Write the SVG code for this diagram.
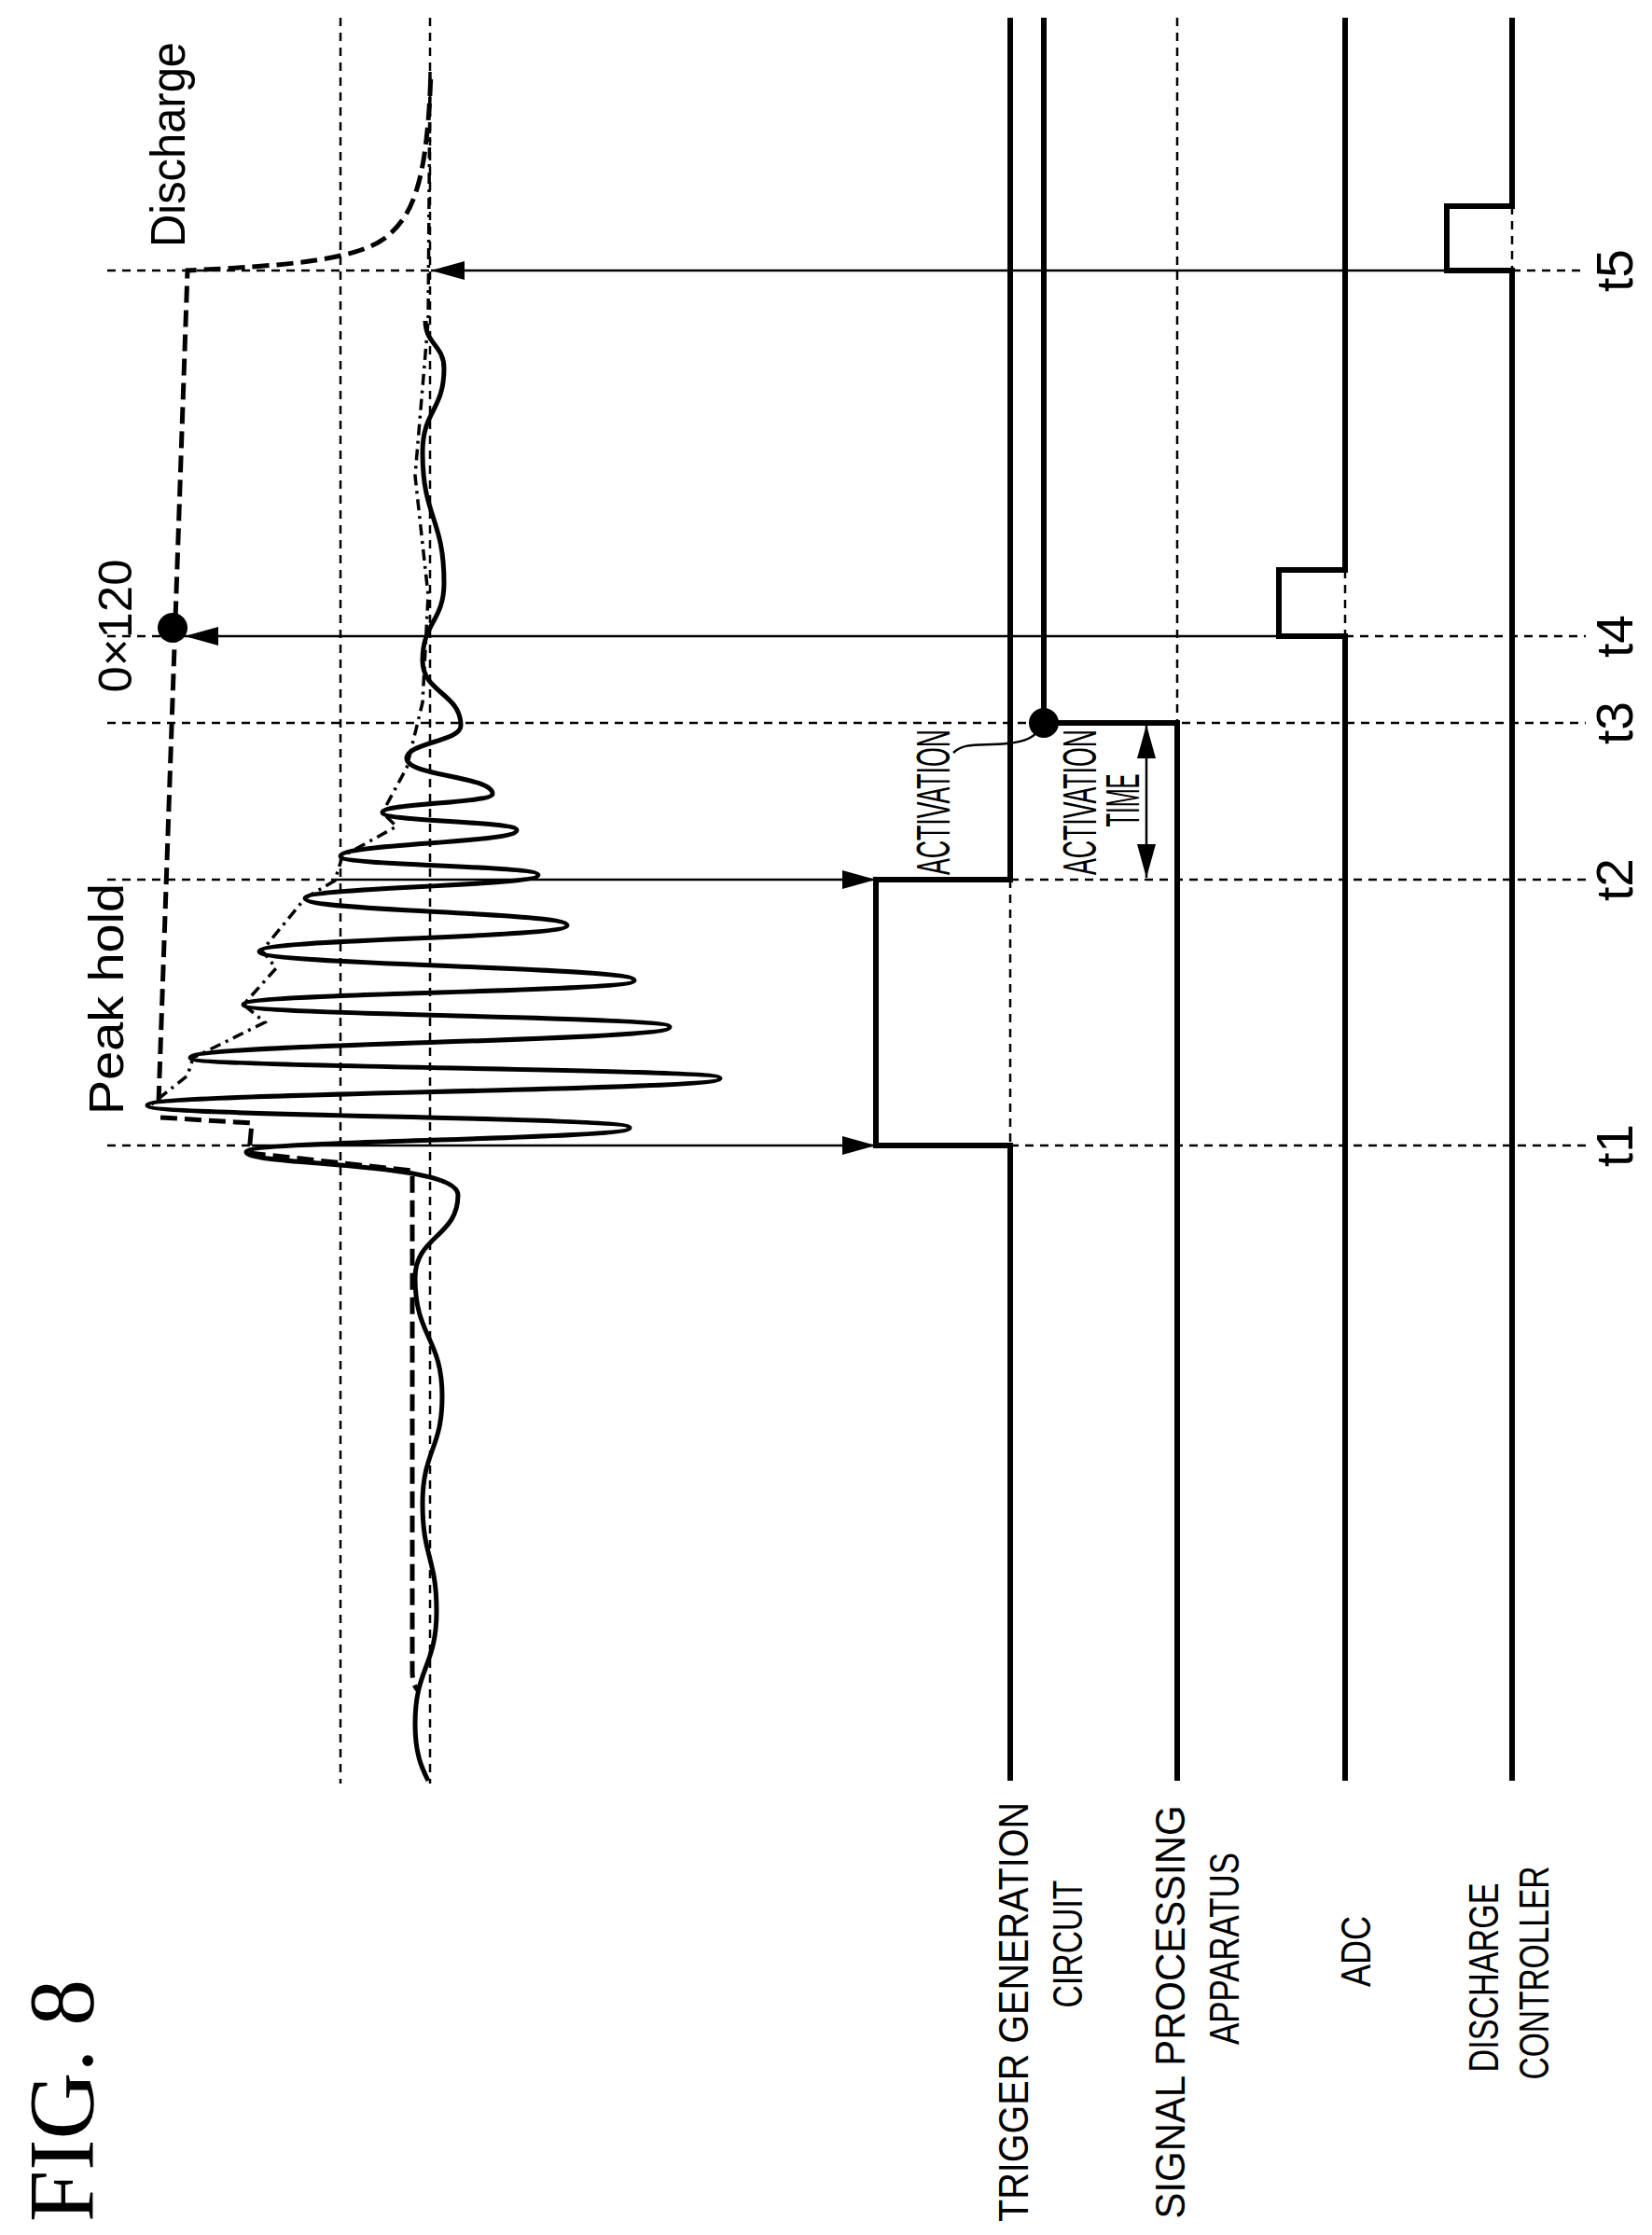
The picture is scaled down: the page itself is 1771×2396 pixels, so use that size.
<svg xmlns="http://www.w3.org/2000/svg" width="1771" height="2396" viewBox="0 0 1771 2396">
<style>
.thick{fill:none;stroke:#000;stroke-width:6}
.thin{fill:none;stroke:#000;stroke-width:2.5}
.dash{fill:none;stroke:#000;stroke-width:2.5;stroke-dasharray:9,7}
.ph{fill:none;stroke:#000;stroke-width:5;stroke-dasharray:18,8}
.dd{fill:none;stroke:#000;stroke-width:3.5;stroke-dasharray:12,6,3,6}
.wave{fill:none;stroke:#000;stroke-width:5}
text{font-family:"Liberation Sans",Arial,sans-serif;fill:#000}
.lbl{font-size:44px}
.tl{font-size:55px}
</style>
<defs>
<marker id="ah" markerUnits="userSpaceOnUse" markerWidth="36" markerHeight="20" refX="36" refY="10" orient="auto-start-reverse"><path d="M0,0 L36,10 L0,20 z" fill="#000"/></marker>
</defs>
<rect width="1771" height="2396" fill="#fff"/>
<g id="grid">
<line class="dash" x1="365" y1="19" x2="365" y2="1912"/>
<line class="dash" x1="461" y1="19" x2="461" y2="1912"/>
<line class="dash" x1="115" y1="290" x2="462" y2="290"/>
<line class="dash" x1="1621" y1="290" x2="1700" y2="290"/>
<line class="dash" x1="115" y1="682" x2="198" y2="682"/>
<line class="dash" x1="1442" y1="682" x2="1700" y2="682"/>
<line class="dash" x1="115" y1="775" x2="1700" y2="775"/>
<line class="dash" x1="115" y1="943" x2="356" y2="943"/>
<line class="dash" x1="1083" y1="943" x2="1700" y2="943"/>
<line class="dash" x1="115" y1="1228" x2="270" y2="1228"/>
<line class="dash" x1="1083" y1="1228" x2="1700" y2="1228"/>
<line class="dash" x1="1083" y1="943" x2="1083" y2="1228"/>
<line class="dash" x1="1262" y1="19" x2="1262" y2="775"/>
<line class="dash" x1="1442" y1="611" x2="1442" y2="682"/>
<line class="dash" x1="1621" y1="221" x2="1621" y2="290"/>
</g>
<g id="waveform">
<path class="wave" d="M456,344 C456,369 476,370 476,395 C476,440 453,440 453,485 C453,555 476,555 476,625 C476,666 453,667 453,708 C453,743 494,743 494,778 C494,795 436,796 436,813 C436,832 528,832 528,851 C528,861 410,861 410,871 C410,881 554,880 554,890 C554,904 365,904 365,918 C365,928 577,928 577,938 C577,950 327,951 327,963 C327,977 608,978 608,992 C608,1006 278,1006 278,1020 C278,1035 680,1036 680,1051 C680,1064 261,1064 261,1077 C261,1089 718,1089 718,1101 C718,1117 204,1118 204,1134 C204,1145 772,1145 772,1156 C772,1170 158,1171 158,1185 C158,1197 675,1197 675,1209 C675,1222 264,1222 264,1235 C264,1250 491,1245 491,1281 C491,1326 445,1325 445,1370 C445,1433 474,1434 474,1497 C474,1554 453,1555 453,1612 C453,1669 468,1670 468,1727 C468,1787 445,1788 445,1848 C445,1880 452,1895 459,1909"/>
<polyline class="dd" points="461,77 459,344 445,510 459,638 453,753 436,823 410,871 425,886 367,918 359,944 327,963 281,1019 296,1038 261,1077 284,1096 207,1134 201,1153 161,1185"/>
<path class="ph" d="M170,1182 L201,290 C300,285 380,280 413,255 C445,230 458,190 462,77"/>
<path class="ph" d="M172,1198 L270,1204 L267,1236 L442,1255 L442,1791 Q442,1806 448,1812"/>
<circle cx="185" cy="673" r="16" fill="#000"/>
</g>
<g id="signals">
<path class="thick" d="M1083,1909 L1083,1228 L939,1228 L939,943 L1083,943 L1083,19"/>
<path class="thick" d="M1119,19 L1119,775"/>
<path class="thick" d="M1262,1909 L1262,775 L1119,775"/>
<circle cx="1119" cy="775" r="16" fill="#000"/>
<path class="thick" d="M1442,1909 L1442,682 L1371,682 L1371,611 L1442,611 L1442,19"/>
<path class="thick" d="M1621,1909 L1621,290 L1551,290 L1551,221 L1621,221 L1621,19"/>
</g>
<g id="connectors">
<line class="thin" x1="270" y1="1228" x2="939" y2="1228" marker-end="url(#ah)"/>
<line class="thin" x1="356" y1="943" x2="939" y2="943" marker-end="url(#ah)"/>
<line class="thin" x1="1371" y1="682" x2="198" y2="682" marker-end="url(#ah)"/>
<line class="thin" x1="1551" y1="290" x2="462" y2="290" marker-end="url(#ah)"/>
<line class="thin" x1="1229" y1="777" x2="1229" y2="941" marker-start="url(#ah)" marker-end="url(#ah)"/>
<path class="thin" stroke-width="2" d="M1022,807 C1035,795 1050,800 1080,797 C1100,795 1110,790 1115,780"/>
</g>
<g id="labels">
<text transform="translate(198,155) rotate(-90)" text-anchor="middle" font-size="52" textLength="220" lengthAdjust="spacingAndGlyphs">Discharge</text>
<text transform="translate(141,671) rotate(-90)" text-anchor="middle" font-size="50" textLength="143" lengthAdjust="spacingAndGlyphs">0×120</text>
<text transform="translate(132,1071) rotate(-90)" text-anchor="middle" font-size="52" textLength="248" lengthAdjust="spacingAndGlyphs">Peak hold</text>
<text transform="translate(1018,860) rotate(-90)" text-anchor="middle" font-size="50" textLength="156" lengthAdjust="spacingAndGlyphs">ACTIVATION</text>
<text transform="translate(1175,860) rotate(-90)" text-anchor="middle" font-size="50" textLength="156" lengthAdjust="spacingAndGlyphs">ACTIVATION</text>
<text transform="translate(1221,858) rotate(-90)" text-anchor="middle" font-size="50" textLength="57" lengthAdjust="spacingAndGlyphs">TIME</text>
<text class="tl" transform="translate(1750,290) rotate(-90)" text-anchor="middle">t5</text>
<text class="tl" transform="translate(1750,682) rotate(-90)" text-anchor="middle">t4</text>
<text class="tl" transform="translate(1750,775) rotate(-90)" text-anchor="middle">t3</text>
<text class="tl" transform="translate(1750,943) rotate(-90)" text-anchor="middle">t2</text>
<text class="tl" transform="translate(1750,1228) rotate(-90)" text-anchor="middle">t1</text>
<text class="lbl" transform="translate(1102,2157) rotate(-90)" text-anchor="middle" textLength="450" lengthAdjust="spacingAndGlyphs">TRIGGER GENERATION</text>
<text class="lbl" transform="translate(1160,2084) rotate(-90)" text-anchor="middle" textLength="137" lengthAdjust="spacingAndGlyphs">CIRCUIT</text>
<text class="lbl" transform="translate(1270,2157) rotate(-90)" text-anchor="middle" textLength="443" lengthAdjust="spacingAndGlyphs">SIGNAL PROCESSING</text>
<text class="lbl" transform="translate(1328,2089) rotate(-90)" text-anchor="middle" textLength="206" lengthAdjust="spacingAndGlyphs">APPARATUS</text>
<text class="lbl" transform="translate(1469,2092) rotate(-90)" text-anchor="middle" textLength="76" lengthAdjust="spacingAndGlyphs">ADC</text>
<text class="lbl" transform="translate(1606,2120) rotate(-90)" text-anchor="middle" textLength="203" lengthAdjust="spacingAndGlyphs">DISCHARGE</text>
<text class="lbl" transform="translate(1660,2115) rotate(-90)" text-anchor="middle" textLength="229" lengthAdjust="spacingAndGlyphs">CONTROLLER</text>
<text transform="translate(99,2252) rotate(-90)" text-anchor="middle" font-family="Liberation Serif, serif" font-size="100" textLength="260" lengthAdjust="spacingAndGlyphs" style="font-family:'Liberation Serif',serif">FIG. 8</text>
</g>
</svg>
